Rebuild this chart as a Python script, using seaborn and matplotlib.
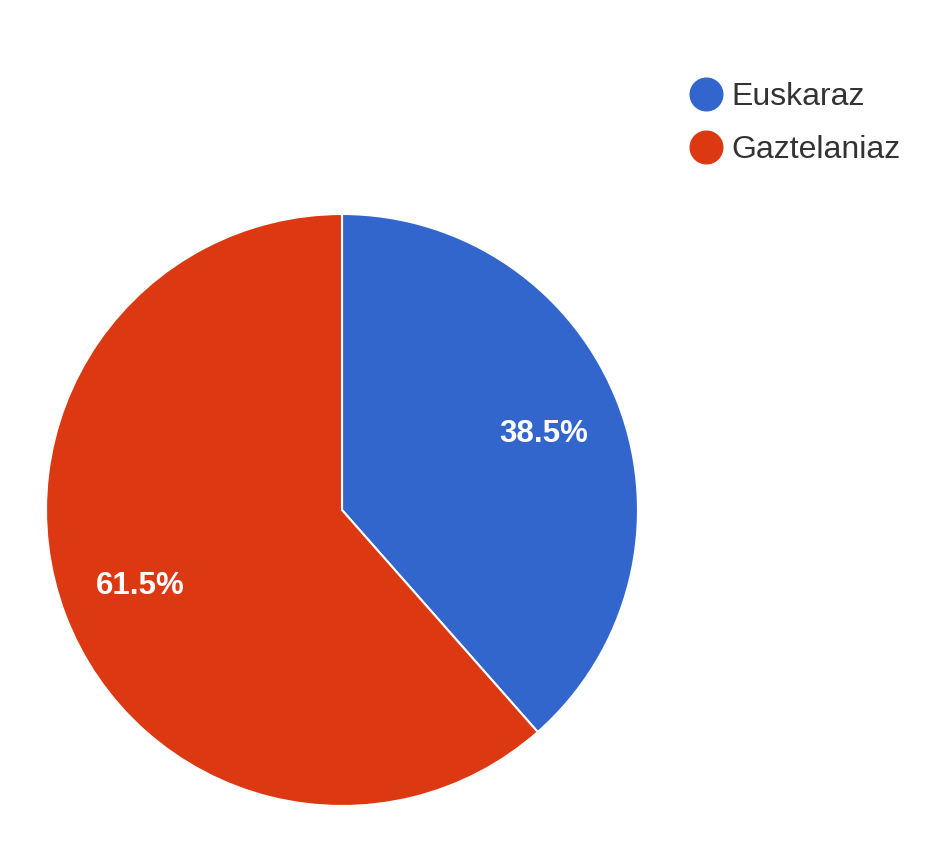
import matplotlib
matplotlib.use("Agg")
import matplotlib.pyplot as plt
from matplotlib.lines import Line2D
import seaborn as sns

categories = ["Euskaraz", "Gaztelaniaz"]
values = [38.5, 61.5]
colors = ["#3366CC", "#DC3912"]

sns.set_theme(style="white")
plt.rcParams["font.family"] = ["Liberation Sans", "DejaVu Sans"]

W, H = 950, 848
fig = plt.figure(figsize=(W / 100, H / 100), dpi=100)
cx, cy, r = 342, 510, 296
ax = fig.add_axes([(cx - r) / W, (H - cy - r) / H, 2 * r / W, 2 * r / H])
wedges, texts, autotexts = ax.pie(
    values, colors=colors, startangle=90, counterclock=False,
    autopct="%1.1f%%", pctdistance=0.73,
    wedgeprops=dict(edgecolor="white", linewidth=1.5),
    textprops=dict(color="white", fontsize=22.5, fontweight="bold"),
)
ax.set_xlim(-1, 1)
ax.set_ylim(-1, 1)
ax.axis("off")

handles = [Line2D([0], [0], marker="o", linestyle="", markersize=23.5,
                  markerfacecolor=c, markeredgecolor=c) for c in colors]
fig.legend(handles, categories, loc="upper left",
           bbox_to_anchor=(690 / W, 1 - 82 / H), frameon=False,
           fontsize=23, labelcolor="#333333", handlelength=1.0,
           handletextpad=0.3, labelspacing=0.72, borderaxespad=0,
           borderpad=0)

fig.savefig("out.png", dpi=100, facecolor="white")
